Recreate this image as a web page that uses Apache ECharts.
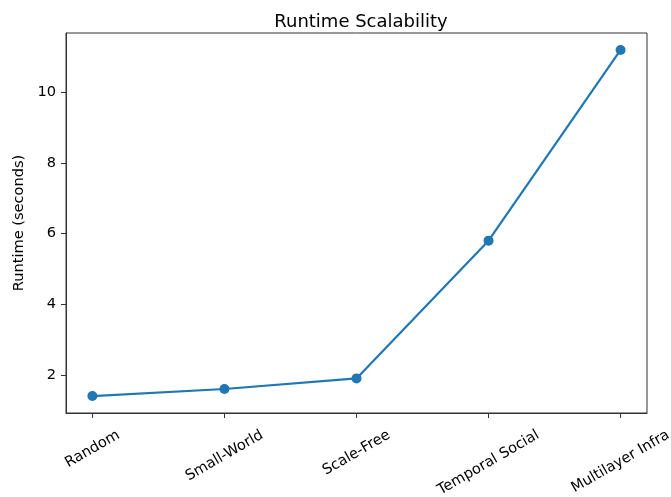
<!DOCTYPE html>
<html>
<head>
<meta charset="utf-8">
<script src="https://cdn.jsdelivr.net/npm/echarts@6/dist/echarts.min.js"></script>
<style>
  html, body { margin: 0; padding: 0; background: #fff; }
  #chart { width: 671px; height: 497px; }
</style>
</head>
<body>
<div id="chart"></div>
<script>
  // data
  var categories = ['Random', 'Small-World', 'Scale-Free', 'Temporal Social', 'Multilayer Infra'];
  var runtimes = [1.4, 1.6, 1.9, 5.8, 11.2];
  var yTicks = [2, 4, 6, 8, 10];

  var FONT = '"DejaVu Sans", sans-serif';
  var LABEL_SIZE = 14.6;
  var xPositions = categories.map(function (c, i) { return i; });

  // matplotlib keeps the top of each rotated label's box at the same height,
  // so longer labels sit lower: shift each one down by a quarter of its width
  var ctx = document.createElement('canvas').getContext('2d');
  ctx.font = LABEL_SIZE + 'px ' + FONT;
  var rich = {};
  categories.forEach(function (c, i) {
    var d = ctx.measureText(c).width * 0.25;
    rich['l' + i] = { fontSize: LABEL_SIZE, fontFamily: FONT, color: '#000', padding: [1.732 * d, d, 0, 0] };
  });

  var chart = echarts.init(document.getElementById('chart'));
  chart.setOption({
    animation: false,
    backgroundColor: '#fff',
    title: {
      text: 'Runtime Scalability',
      left: 356,
      top: 8,
      textAlign: 'center',
      textStyle: { fontFamily: FONT, fontSize: 18, fontWeight: 'normal', color: '#000' }
    },
    grid: {
      left: 66, right: 24, top: 33, bottom: 84,
      outerBoundsMode: 'none',
      show: true, borderColor: '#333', borderWidth: 1
    },
    xAxis: {
      type: 'value',
      min: -0.2,
      max: 4.2,
      splitLine: { show: false },
      axisLine: { show: true, onZero: false, lineStyle: { color: '#333' } },
      axisTick: { show: true, length: 5, customValues: xPositions, lineStyle: { color: '#333' } },
      axisLabel: {
        customValues: xPositions,
        rotate: 30,
        align: 'center',
        verticalAlign: 'middle',
        margin: 21,
        formatter: function (v) { return '{l' + v + '|' + categories[v] + '}'; },
        rich: rich
      }
    },
    yAxis: {
      type: 'value',
      min: 0.92,
      max: 11.68,
      name: 'Runtime (seconds)',
      nameLocation: 'middle',
      nameGap: 39,
      nameTextStyle: { fontFamily: FONT, fontSize: LABEL_SIZE, color: '#000' },
      splitLine: { show: false },
      axisLine: { show: true, onZero: false, lineStyle: { color: '#333' } },
      axisTick: { show: true, length: 5, customValues: yTicks, lineStyle: { color: '#333' } },
      axisLabel: {
        customValues: yTicks,
        margin: 10,
        fontFamily: FONT,
        fontSize: LABEL_SIZE,
        color: '#000'
      }
    },
    series: [{
      type: 'line',
      data: xPositions.map(function (x, i) { return [x, runtimes[i]]; }),
      symbol: 'circle',
      symbolSize: 10,
      lineStyle: { color: '#1f77b4', width: 2.2 },
      itemStyle: { color: '#1f77b4' }
    }]
  });
</script>
</body>
</html>
